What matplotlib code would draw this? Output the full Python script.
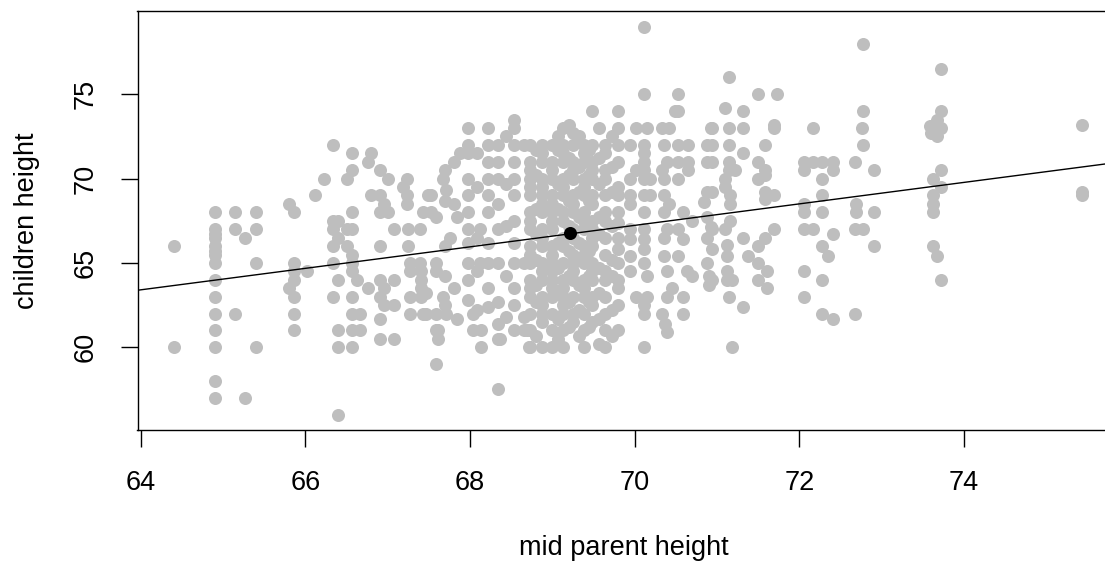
import numpy as np
import matplotlib
matplotlib.use("Agg")
import matplotlib.pyplot as plt

plt.rcParams['font.family'] = ['Liberation Sans', 'DejaVu Sans']

# mid parent heights (one entry per visible column of points)
mid_parent = [64.4, 64.9, 65.15, 65.26, 65.4, 65.8, 65.86, 66.02, 66.12, 66.22,
              66.33, 66.4, 66.51, 66.57, 66.62, 66.66, 66.76, 66.8, 66.9, 66.95,
              67.0, 67.07, 67.19, 67.23, 67.25, 67.27, 67.39, 67.4, 67.43, 67.47,
              67.49, 67.53, 67.59, 67.61, 67.67, 67.71, 67.75, 67.8, 67.84, 67.88,
              67.98, 68.04, 68.12, 68.13, 68.22, 68.34, 68.36, 68.53, 68.65, 68.69,
              68.71, 68.73, 68.87, 69.0, 69.13, 69.25, 69.38, 69.48, 69.64, 69.8,
              69.94, 70.02, 70.11, 70.15, 70.19, 70.33, 70.35, 70.37, 70.39, 70.41,
              70.45, 70.49, 70.53, 70.59, 70.63, 70.65, 70.69, 70.84, 70.88, 70.9,
              70.92, 70.94, 71.1, 71.12, 71.14, 71.16, 71.18, 71.22, 71.32, 71.38,
              71.5, 71.58, 71.6, 71.69, 71.73, 72.06, 72.17, 72.27, 72.35, 72.41,
              72.68, 72.69, 72.76, 72.77, 72.91, 73.59, 73.6, 73.62, 73.66, 73.67,
              73.72, 75.43,
              67.7, 68.08, 68.44, 68.8, 69.07, 69.2, 69.32, 69.44, 69.56, 69.72]

# children heights for each mid parent column
children = [
    [66, 60],
    [68, 67, 66.7, 66.5, 66, 65.7, 65.5, 65, 64, 63, 62, 61, 60, 58, 57],
    [68, 67, 62],
    [66.5, 57],
    [68, 67, 65, 60],
    [68.5, 63.5],
    [68, 65, 64.5, 64, 63, 62, 61],
    [64.5],
    [69],
    [70],
    [72, 67.5, 67, 66, 65, 63],
    [67.5, 66.5, 64, 61, 60, 56],
    [70, 67, 66],
    [71.5, 70.5, 68, 67, 65.5, 65, 64.5, 63, 62, 61, 60],
    [64],
    [62, 61],
    [71, 63.5],
    [71.5, 69],
    [70.5, 69, 68, 66, 64, 63, 61.7, 60.5],
    [68.5, 63.5, 62.5],
    [70, 68],
    [67, 64, 62.5, 60.5],
    [69.5],
    [70, 69, 68.5],
    [67, 66],
    [65, 64.5, 63, 62],
    [67, 65],
    [64.5, 64, 63.5, 63],
    [68, 62],
    [63.2, 62],
    [69],
    [69, 68],
    [67.7, 65, 64.5, 62, 61, 59],
    [61, 60.5],
    [70, 63],
    [69.3, 62],
    [66.5],
    [71, 68.5, 63.5],
    [67.7, 61.7],
    [71.5],
    [73, 72, 71.5, 70, 69, 68, 67, 66.2, 65, 64, 62.8],
    [62, 61],
    [67, 65],
    [61, 60],
    [73, 72, 71, 70, 69, 68, 66.2, 65, 63.5, 62.4],
    [72, 71, 70, 68.5, 67, 65, 62.7, 61.4, 60.5, 57.5],
    [60.5],
    [73.5, 73, 72, 71, 70, 69, 67.5, 66.2, 65, 63.5, 62.5, 61],
    [72, 65, 61.8, 61],
    [61],
    [60],
    [72, 71, 70.5, 70, 69.5, 69, 68, 67.5, 67, 66, 65.5, 65, 64, 63.5, 63, 62, 61, 60],
    [72, 71.5, 71, 70, 69.5, 69, 68.5, 68, 67, 66.5, 66, 65, 64.5, 64, 63, 62.5, 62, 61.5, 60],
    [72, 71, 70.5, 70, 69, 68.5, 68, 67.5, 67, 66, 65.5, 65, 64.5, 64, 63.5, 63, 62, 61, 60],
    [73, 72, 71.5, 71, 70, 69.5, 69, 68, 67.5, 66.5, 66, 65, 64, 63.5, 63, 62.5, 62, 61, 60],
    [72.7, 72, 71, 70.5, 70, 69, 68.5, 68, 67, 66.5, 65.5, 65, 64.5, 64, 63, 62, 61.5],
    [72, 71.5, 71, 70, 69.5, 69, 68, 67.5, 67, 66, 65.5, 65, 64, 63.5, 63, 62, 61, 60],
    [74, 72, 71, 70.5, 70, 69, 68.5, 67.5, 67, 66.5, 66, 65, 64.5, 64, 63, 62.5, 61.5],
    [72, 71.5, 70.5, 70, 69, 68, 67.5, 66.5, 65.5, 64.5, 64, 63, 62, 61, 60],
    [74, 73, 72, 71, 69.5, 69, 68, 67.35, 66.5, 65.8, 65, 64, 63.5, 62.5, 61],
    [72, 70, 69, 68.5, 67, 66.4, 65.4, 64.5],
    [73, 70.5, 63],
    [79, 75, 72, 71.5, 71, 70.5, 70, 69, 68, 67, 66.4, 65.8, 65, 62.5, 62, 60],
    [73, 64.2, 63],
    [70, 69],
    [73, 70.5, 62],
    [72, 70, 69, 68, 66.5, 65.4],
    [61.4],
    [71, 67, 64.5, 63, 60.9],
    [73, 68.5],
    [63.5],
    [74],
    [75, 74, 72, 71, 70, 67, 65.4],
    [68, 66.4, 63, 62],
    [64.5],
    [72, 71, 70.5],
    [67.5, 64.2],
    [68.6],
    [72, 71, 69.2, 67.7, 66.5, 65],
    [64.2, 63.7],
    [73, 67.15],
    [73, 72, 71, 69.2, 67, 65.8, 64],
    [74.2, 70, 69.5, 67],
    [66.06, 65.4, 64.5, 64],
    [76, 73, 72, 71, 70.5, 63],
    [69, 68.5, 67.5],
    [64, 60],
    [70.5],
    [74, 73, 71.5, 66.5, 62.4],
    [65.4],
    [75, 71, 70, 66, 65, 64],
    [72, 70.5, 70.2, 69.2, 68.8, 66.5],
    [64.5, 63.5],
    [73.2, 73, 69, 67],
    [75],
    [71, 70.5, 68.5, 68, 67, 64.5, 63],
    [73, 71, 67],
    [71, 70, 69, 68, 66, 64, 62],
    [65.4],
    [71, 70.5, 66.7, 61.7],
    [71, 67, 62],
    [68.5, 68],
    [73],
    [78, 74, 72, 67],
    [70.5, 68, 66],
    [73.1],
    [72.7],
    [70, 69, 68.5, 68, 66],
    [73.1],
    [73.5, 72.5, 65.4],
    [76.5, 74, 73, 70.5, 69.5, 64],
    [73.2, 69.2, 69],
    [70.5, 68.7, 66, 64.2, 62.5],
    [71.5, 69.5, 66.5, 64.5, 62.2],
    [72.5, 69.7, 67.2, 64.2, 61.8],
    [71.7, 70.2, 68.2, 66.7, 65.2, 63.7, 62.7, 60.7],
    [72.5, 71.7, 69.7, 68.2, 66.2, 64.7, 63.2, 61.7, 60.5],
    [73.2, 71.2, 70.2, 68.7, 67.2, 65.7, 64.2, 62.7, 61.2],
    [72.5, 70.7, 69.2, 67.7, 66.2, 65.2, 63.7, 62.2, 60.7],
    [71.7, 70.2, 68.7, 67.2, 65.7, 64.2, 62.7, 61.2],
    [73, 71.2, 69.7, 67.7, 66.7, 64.7, 63.2, 61.7, 60.2],
    [72.5, 70.7, 69.2, 67.2, 65.2, 64.2, 62.2, 60.7],
]

# regression line and mean point
line_intercept = 22.64
line_slope = 0.637
mean_parent = 69.21
mean_child = 66.75

x_ticks = [64, 66, 68, 70, 72, 74]
y_ticks = [60, 65, 70, 75]

xs = np.concatenate([[m] * len(c) for m, c in zip(mid_parent, children)])
ys = np.concatenate([np.array(c, dtype=float) for c in children])

fig = plt.figure(figsize=(11.05, 5.63), dpi=100)
W, H = 1105, 563
ax = fig.add_axes([137.5 / W, 1 - 430.3 / H, 980.6 / W, 419 / H])

ax.scatter(xs, ys, s=88, color='#BEBEBE', linewidths=0, zorder=2)
xl = np.array([63.96, 75.87])
ax.plot(xl, line_intercept + line_slope * xl, color='black', lw=1.0, zorder=3)
ax.scatter([mean_parent], [mean_child], s=88, color='black', linewidths=0, zorder=4)

ax.set_xlim(63.96, 75.87)
ax.set_ylim(55.08, 79.92)
ax.set_xticks(x_ticks)
ax.set_yticks(y_ticks)
ax.set_yticklabels([str(v) for v in y_ticks], rotation=90, va='center')
ax.tick_params(axis='both', direction='out', length=12.2, width=1.0,
               labelsize=19.5, colors='black')
ax.tick_params(axis='x', pad=16.5)
ax.tick_params(axis='y', pad=15.5)
for sp in ax.spines.values():
    sp.set_linewidth(1.0)
    sp.set_color('black')

fig.text(624 / W, 1 - 548 / H, 'mid parent height', ha='center', va='center', fontsize=19.5)
fig.text(27 / W, 1 - 221 / H, 'children height', ha='center', va='center',
         rotation=90, fontsize=19.5)

fig.savefig('out.png', dpi=100)
